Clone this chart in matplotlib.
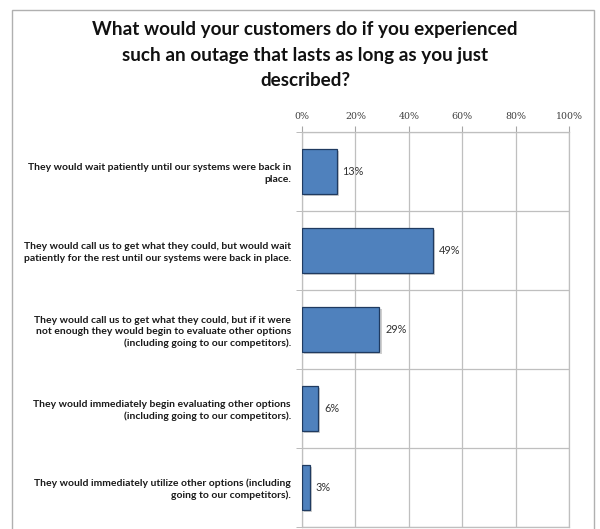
import matplotlib
matplotlib.use("Agg")
import matplotlib.pyplot as plt
import matplotlib.patheffects as pe
from matplotlib.patches import Rectangle
from matplotlib.ticker import FixedLocator, PercentFormatter

title = "What would your customers do if you experienced\nsuch an outage that lasts as long as you just\ndescribed?"
categories = [
    "They would wait patiently until our systems were back in\nplace.",
    "They would call us to get what they could, but would wait\npatiently for the rest until our systems were back in place.",
    "They would call us to get what they could, but if it were\nnot enough they would begin to evaluate other options\n(including going to our competitors).",
    "They would immediately begin evaluating other options\n(including going to our competitors).",
    "They would immediately utilize other options (including\ngoing to our competitors).",
]
values = [13, 49, 29, 6, 3]
xticks = [0, 20, 40, 60, 80, 100]

W, H = 600, 529
fig = plt.figure(figsize=(W / 100, H / 100), dpi=100)
fig.patch.set_facecolor("white")

# outer chart border
fig.patches.append(Rectangle((12 / W, -0.05), (594 - 12) / W, 1.05 - 10 / H,
                             transform=fig.transFigure, fill=False,
                             edgecolor="#b0b0b0", linewidth=1.0))

ax = fig.add_axes([302 / W, 1 - 527 / H, (569 - 302) / W, (527 - 132) / H])
n = len(values)
ys = list(range(n))
bars = ax.barh(ys, values, height=0.58, color="#4f81bd", edgecolor="#1f3a60",
               linewidth=0.9, zorder=3)
for b in bars:
    b.set_path_effects([pe.SimplePatchShadow(offset=(1.5, -1.5), alpha=0.35, shadow_rgbFace="#777777"),
                        pe.Normal()])

ax.set_xlim(0, 100)
ax.set_ylim(n - 0.5, -0.5)
ax.xaxis.set_ticks_position("top")
ax.xaxis.set_label_position("top")
ax.set_xticks(xticks)
ax.xaxis.set_major_formatter(PercentFormatter(decimals=0))
ax.tick_params(axis="x", which="major", length=4, color="#a6a6a6", labelsize=6.8,
               labelcolor="#404040", pad=4)
for t in ax.get_xticklabels():
    t.set_fontfamily("DejaVu Serif")

ax.set_yticks(ys)
ax.set_yticklabels(categories, fontsize=7.5, fontweight="bold", fontfamily="Lato",
                   color="#1a1a1a", linespacing=1.3)
ax.tick_params(axis="y", which="major", length=0, pad=8)
ax.yaxis.set_minor_locator(FixedLocator([i + 0.5 for i in range(-1, n)]))
ax.tick_params(axis="y", which="minor", length=4, color="#b0b0b0")

ax.grid(axis="x", which="major", color="#bfbfbf", linewidth=0.9, zorder=0)
ax.grid(axis="y", which="minor", color="#bfbfbf", linewidth=0.9, zorder=0)
for s in ax.spines.values():
    s.set_color("#bfbfbf")
    s.set_linewidth(0.9)

for y, v in zip(ys, values):
    ax.text(v + 2.2, y, f"{v}%", va="center", ha="left", fontsize=7.8,
            fontfamily="Lato", color="#333333", zorder=4)

fig.text(305 / W, 1 - 55 / H, title, ha="center", va="center", fontsize=13.6,
         fontweight="bold", fontfamily="Lato", color="#111111", linespacing=1.58)

fig.savefig("out.png", dpi=100)
